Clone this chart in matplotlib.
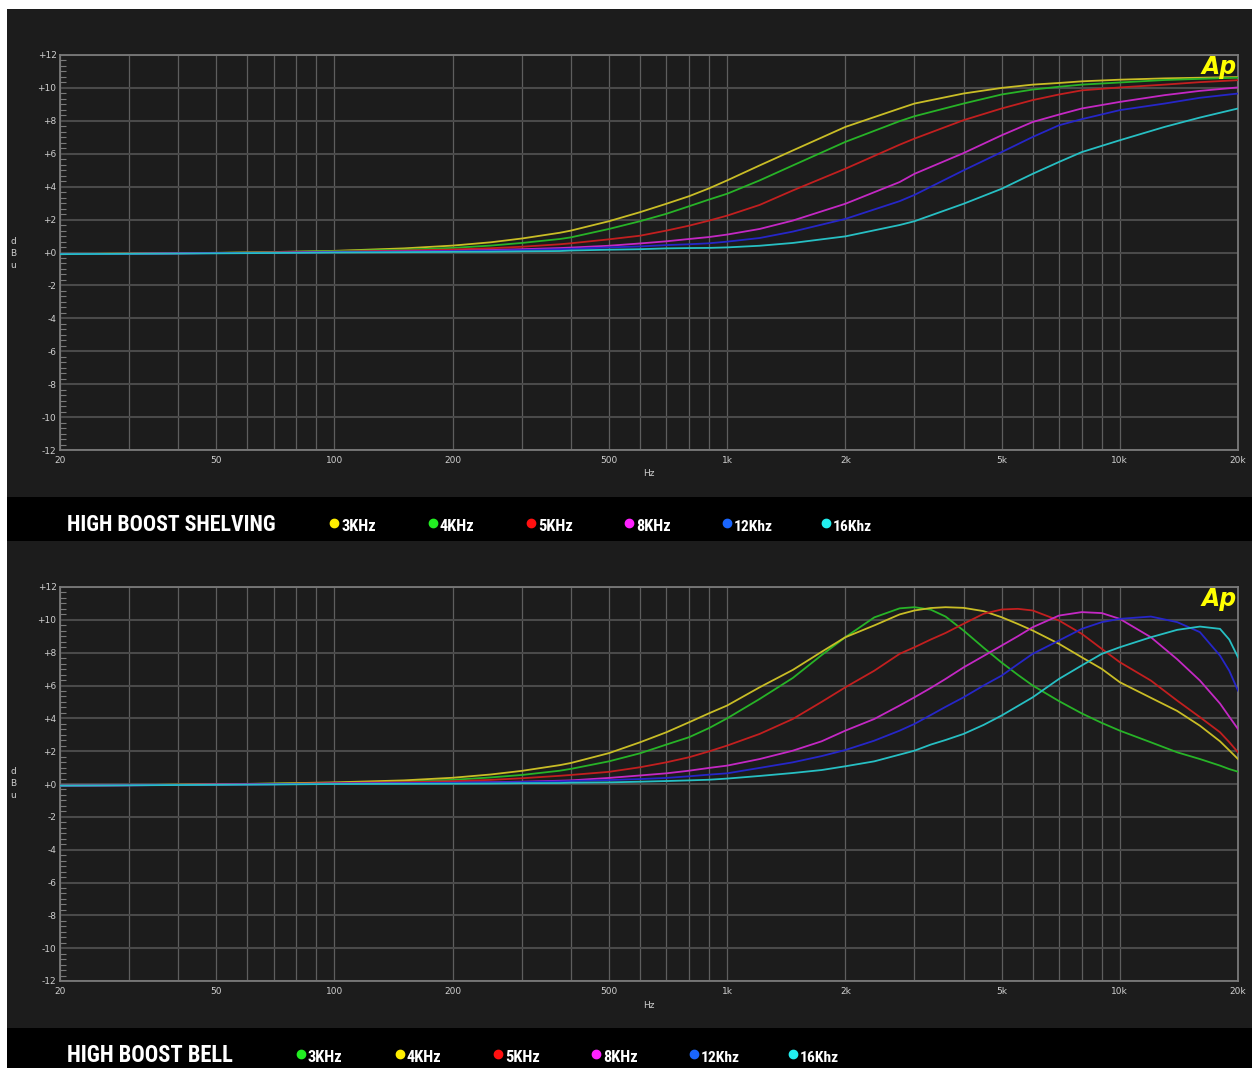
import matplotlib
matplotlib.use("Agg")
import matplotlib.pyplot as plt
from matplotlib import font_manager
from matplotlib.patches import Rectangle
from matplotlib.lines import Line2D
from matplotlib.ticker import FixedLocator, MultipleLocator, NullFormatter

# ---------------- data ----------------
freq_shelf = [20, 30, 50, 70, 100, 150, 200, 250, 300, 375, 400, 500, 600, 700, 800,
              900, 1000, 1210, 1470, 2000, 2750, 3000, 4000, 5000, 6000, 7000, 8000,
              10000, 13000, 16000, 20000]
shelf_3k = [-0.1, -0.07, -0.02, 0.03, 0.1, 0.25, 0.42, 0.62, 0.85, 1.2, 1.33, 1.9, 2.45,
            2.96, 3.42, 3.9, 4.38, 5.29, 6.2, 7.63, 8.75, 9.05, 9.66, 10.0, 10.2, 10.3,
            10.4, 10.5, 10.58, 10.62, 10.66]
shelf_4k = [-0.1, -0.07, -0.03, 0.02, 0.08, 0.17, 0.28, 0.42, 0.58, 0.82, 0.92, 1.43, 1.9,
            2.35, 2.81, 3.22, 3.57, 4.38, 5.29, 6.72, 7.98, 8.28, 9.05, 9.6, 9.9, 10.07,
            10.2, 10.33, 10.48, 10.55, 10.62]
shelf_5k = [-0.1, -0.07, -0.03, 0.0, 0.05, 0.12, 0.18, 0.26, 0.35, 0.5, 0.56, 0.8, 1.02,
            1.33, 1.63, 1.94, 2.24, 2.89, 3.77, 5.09, 6.55, 6.92, 8.04, 8.75, 9.26, 9.6,
            9.85, 10.03, 10.2, 10.35, 10.47]
shelf_8k = [-0.1, -0.08, -0.03, -0.01, 0.03, 0.07, 0.1, 0.15, 0.2, 0.27, 0.3, 0.41, 0.55,
            0.68, 0.82, 0.94, 1.09, 1.43, 1.94, 2.96, 4.28, 4.78, 6.04, 7.12, 7.93, 8.38,
            8.75, 9.15, 9.56, 9.82, 10.03]
shelf_12k = [-0.1, -0.08, -0.04, -0.02, 0.02, 0.05, 0.08, 0.11, 0.15, 0.2, 0.22, 0.31, 0.37,
             0.45, 0.5, 0.56, 0.66, 0.88, 1.27, 2.04, 3.12, 3.5, 4.99, 6.1, 7.02, 7.73,
             8.1, 8.65, 9.05, 9.4, 9.66]
shelf_16k = [-0.1, -0.08, -0.05, -0.03, 0.0, 0.02, 0.04, 0.05, 0.07, 0.09, 0.12, 0.17, 0.2,
             0.25, 0.27, 0.28, 0.31, 0.41, 0.58, 0.98, 1.67, 1.9, 2.96, 3.87, 4.78, 5.5,
             6.1, 6.82, 7.63, 8.2, 8.75]

freq_bell = [20, 30, 50, 70, 100, 150, 200, 250, 300, 375, 400, 500, 600, 700, 800, 900,
             1000, 1210, 1470, 1740, 2000, 2370, 2750, 3000, 3300, 3600, 4000, 4500, 5000,
             5500, 6000, 7000, 8000, 9000, 10000, 12000, 14000, 16000, 18000, 19000, 20000]
bell_3k = [-0.1, -0.07, -0.02, 0.02, 0.07, 0.15, 0.25, 0.4, 0.55, 0.81, 0.92, 1.38, 1.87,
           2.4, 2.85, 3.41, 4.0, 5.18, 6.46, 7.85, 8.94, 10.15, 10.7, 10.77, 10.62, 10.2,
           9.35, 8.3, 7.4, 6.65, 6.0, 5.05, 4.3, 3.72, 3.25, 2.54, 1.93, 1.52, 1.12, 0.91,
           0.75]
bell_4k = [-0.1, -0.07, -0.02, 0.03, 0.1, 0.22, 0.38, 0.58, 0.8, 1.15, 1.28, 1.88, 2.54,
           3.15, 3.76, 4.31, 4.78, 5.89, 6.95, 8.05, 8.94, 9.66, 10.33, 10.57, 10.72, 10.77,
           10.73, 10.53, 10.16, 9.75, 9.35, 8.54, 7.72, 7.01, 6.2, 5.25, 4.45, 3.55, 2.6,
           2.05, 1.52]
bell_5k = [-0.1, -0.07, -0.03, 0.0, 0.05, 0.11, 0.17, 0.25, 0.35, 0.5, 0.55, 0.74, 1.02,
           1.32, 1.63, 1.99, 2.34, 3.05, 3.96, 5.0, 5.89, 6.9, 7.93, 8.33, 8.8, 9.2, 9.76,
           10.37, 10.63, 10.67, 10.57, 9.96, 9.15, 8.23, 7.42, 6.3, 5.08, 4.07, 3.15, 2.55,
           1.93]
bell_8k = [-0.1, -0.08, -0.03, -0.01, 0.03, 0.06, 0.08, 0.11, 0.14, 0.2, 0.22, 0.37, 0.52,
           0.65, 0.81, 0.98, 1.12, 1.52, 2.03, 2.6, 3.25, 3.96, 4.78, 5.28, 5.85, 6.4, 7.1,
           7.8, 8.43, 9.0, 9.55, 10.26, 10.47, 10.41, 10.06, 8.94, 7.6, 6.3, 4.9, 4.1, 3.35]
bell_12k = [-0.1, -0.08, -0.04, -0.02, 0.02, 0.05, 0.07, 0.1, 0.12, 0.16, 0.18, 0.24, 0.3,
            0.37, 0.47, 0.57, 0.65, 0.98, 1.32, 1.7, 2.07, 2.64, 3.25, 3.66, 4.2, 4.7, 5.28,
            6.0, 6.6, 7.3, 7.93, 8.74, 9.45, 9.86, 10.06, 10.2, 9.86, 9.25, 7.82, 6.9, 5.69]
bell_16k = [-0.1, -0.08, -0.05, -0.03, 0.0, 0.01, 0.02, 0.03, 0.05, 0.06, 0.08, 0.1, 0.14,
            0.18, 0.22, 0.26, 0.33, 0.49, 0.67, 0.85, 1.08, 1.38, 1.79, 2.03, 2.4, 2.68,
            3.05, 3.6, 4.17, 4.75, 5.28, 6.4, 7.22, 7.93, 8.33, 8.94, 9.39, 9.59, 9.45, 8.8,
            7.72]

legend_labels = ["3KHz", "4KHz", "5KHz", "8KHz", "12Khz", "16Khz"]
x_ticks = [20, 50, 100, 200, 500, 1000, 2000, 5000, 10000, 20000]
x_ticklabels = ["20", "50", "100", "200", "500", "1k", "2k", "5k", "10k", "20k"]
x_minor = [30, 40, 60, 70, 80, 90, 300, 400, 600, 700, 800, 900, 3000, 4000, 6000, 7000,
           8000, 9000]
y_ticks = list(range(-12, 13, 2))
y_ticklabels = ["+%d" % v if v >= 0 else "%d" % v for v in y_ticks]
panel_titles = ["HIGH BOOST SHELVING", "HIGH BOOST BELL"]

# ---------------- style ----------------
W, H = 1252, 1068
BG = "#1c1c1c"
LBL = "#cfcfcf"
line_col = {"yellow": "#c9bd26", "green": "#27b327", "red": "#c21f1f",
            "magenta": "#c428c4", "blue": "#2626c8", "cyan": "#27bfc3"}
dot_col = {"yellow": "#ffee00", "green": "#22ee22", "red": "#ff1010",
           "magenta": "#ff22ff", "blue": "#1a66ff", "cyan": "#22eeee"}

names = {f.name for f in font_manager.fontManager.ttflist}
COND = None
for n in ["Roboto Condensed", "Liberation Sans Narrow", "Open Sans Condensed",
          "DejaVu Sans Condensed"]:
    if n in names:
        COND = n
        break
if COND is None:
    COND = "DejaVu Sans"

fig = plt.figure(figsize=(W / 100, H / 100), dpi=100, facecolor="white")


def fx(x):
    return x / W


def fy(y):
    return 1 - y / H


fig.add_artist(Rectangle((fx(7), 0), 1 - fx(7), fy(9), transform=fig.transFigure,
                         facecolor=BG, edgecolor="none", zorder=0))
fig.add_artist(Rectangle((fx(7), fy(541)), 1 - fx(7), (541 - 497) / H,
                         transform=fig.transFigure, facecolor="black",
                         edgecolor="none", zorder=0))
fig.add_artist(Rectangle((fx(7), 0), 1 - fx(7), (1068 - 1028) / H,
                         transform=fig.transFigure, facecolor="black",
                         edgecolor="none", zorder=0))


def make_axes(top_px, bot_px):
    ax = fig.add_axes([fx(60), fy(bot_px), (1238 - 60) / W, (bot_px - top_px) / H])
    ax.set_facecolor(BG)
    ax.set_xscale("log")
    ax.set_xlim(20, 20000)
    ax.set_ylim(-12, 12)
    ax.set_xticks(x_ticks)
    ax.set_xticklabels(x_ticklabels)
    ax.xaxis.set_minor_locator(FixedLocator(x_minor))
    ax.xaxis.set_minor_formatter(NullFormatter())
    ax.set_yticks(y_ticks)
    ax.set_yticklabels(y_ticklabels)
    ax.yaxis.set_minor_locator(MultipleLocator(2 / 6))
    ax.grid(which="both", axis="x", color="#5e5e5e", lw=0.9)
    ax.grid(which="major", axis="y", color="#4a4a4a", lw=1.5)
    ax.tick_params(axis="x", which="both", length=0, pad=4, labelsize=6.5,
                   labelcolor=LBL)
    ax.tick_params(axis="y", which="major", length=0, pad=2.5, labelsize=6.5,
                   labelcolor=LBL)
    ax.tick_params(axis="y", which="minor", direction="in", length=4, width=0.8,
                   color="#7a7a7a")
    for s in ax.spines.values():
        s.set_color("#7a7a7a")
        s.set_linewidth(1.3)
    ax.set_axisbelow(True)
    return ax


def fit_text(x, y_base, s, target_w, max_pt, **kw):
    t = fig.text(fx(x), fy(y_base), s, ha="left", va="baseline", fontsize=max_pt,
                 family=COND, fontweight="bold", color="white", **kw)
    r = fig.canvas.get_renderer()
    w = t.get_window_extent(r).width
    if w > target_w:
        t.set_fontsize(max_pt * target_w / w)
    return t


panels = [
    dict(top=55, bot=450, freq=freq_shelf,
         series=[(shelf_3k, "yellow"), (shelf_4k, "green"), (shelf_5k, "red"),
                 (shelf_8k, "magenta"), (shelf_12k, "blue"), (shelf_16k, "cyan")],
         hz_y=474, dbu_y=253, bar_base=531, title_w=210,
         dots=[334, 433, 531, 629, 727, 826], dot_y=523),
    dict(top=587, bot=981, freq=freq_bell,
         series=[(bell_3k, "green"), (bell_4k, "yellow"), (bell_5k, "red"),
                 (bell_8k, "magenta"), (bell_12k, "blue"), (bell_16k, "cyan")],
         hz_y=1006, dbu_y=784, bar_base=1062, title_w=167,
         dots=[301, 400, 498, 596, 694, 793], dot_y=1054),
]

for i, p in enumerate(panels):
    ax = make_axes(p["top"], p["bot"])
    for vals, c in p["series"]:
        ax.plot(p["freq"], vals, color=line_col[c], lw=1.3, zorder=3,
                solid_joinstyle="round")
    ax.text(0.9985, (p["bot"] - (p["top"] + 19)) / (p["bot"] - p["top"]), "Ap",
            transform=ax.transAxes, ha="right", va="baseline", fontsize=17,
            fontweight="bold", fontstyle="italic", color="#ffff00", zorder=5)
    fig.text(fx(649), fy(p["hz_y"]), "Hz", ha="center", va="center", fontsize=6.5,
             color=LBL)
    for k, ch in enumerate("dBu"):
        fig.text(fx(13), fy(p["dbu_y"] + (k - 1) * 12), ch, ha="center", va="center",
                 fontsize=6.5, color=LBL)
    fit_text(67, p["bar_base"], panel_titles[i], p["title_w"], 24)
    for (vals, c), dx, lab in zip(p["series"], p["dots"], legend_labels):
        fig.add_artist(Line2D([fx(dx)], [fy(p["dot_y"])], marker="o", markersize=6,
                              color=dot_col[c], transform=fig.transFigure,
                              linestyle="none"))
        tw = 35 if len(lab) == 4 else 39
        fit_text(dx + 7, p["bar_base"], lab, tw, 17)

fig.savefig("out.png", dpi=100, facecolor="white")
